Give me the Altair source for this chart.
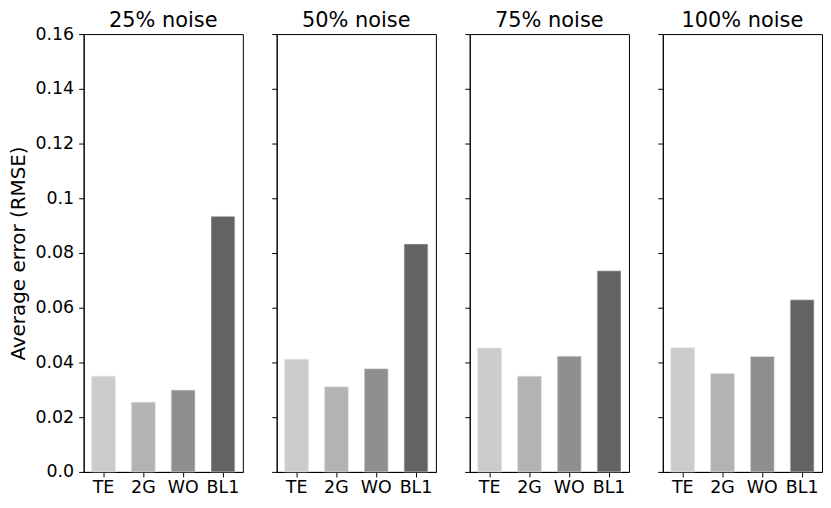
import altair as alt
import pandas as pd

panels = ["25% noise", "50% noise", "75% noise", "100% noise"]
methods = ["TE", "2G", "WO", "BL1"]
vals_25 = [0.0350, 0.0255, 0.0299, 0.0934]
vals_50 = [0.0412, 0.0311, 0.0377, 0.0833]
vals_75 = [0.0453, 0.0350, 0.0423, 0.0735]
vals_100 = [0.0454, 0.0360, 0.0422, 0.0629]
series = [vals_25, vals_50, vals_75, vals_100]
colors = ["#cccccc", "#b3b3b3", "#8f8f8f", "#636363"]
y_ticks = [0.0, 0.02, 0.04, 0.06, 0.08, 0.1, 0.12, 0.14, 0.16]

FONT = "DejaVu Sans"

charts = []
for i, (p, v) in enumerate(zip(panels, series)):
    df = pd.DataFrame({"method": methods, "value": v})
    yaxis_kw = dict(
        values=y_ticks,
        labelExpr="datum.value == 0 ? '0.0' : format(datum.value, '~g')",
        labelPadding=5,
        titlePadding=6,
    )
    if i == 0:
        yaxis_kw["title"] = "Average error (RMSE)"
        toff = -6
    else:
        yaxis_kw["title"] = ""
        yaxis_kw["labels"] = False
        toff = 3
    c = (
        alt.Chart(df, title=alt.TitleParams(p, fontSize=21, font=FONT, fontWeight="normal",
                                            offset=toff, color="black", frame="group"))
        .mark_bar(stroke="#e6e6e6", strokeWidth=0.6)
        .encode(
            x=alt.X("method:N", sort=methods,
                    scale=alt.Scale(domain=methods, paddingInner=0.4, paddingOuter=0.2),
                    axis=alt.Axis(title="", labelAngle=0, labelPadding=2)),
            y=alt.Y("value:Q", scale=alt.Scale(domain=[0, 0.16], nice=False, zero=True),
                    axis=alt.Axis(**yaxis_kw)),
            color=alt.Color("method:N", scale=alt.Scale(domain=methods, range=colors), legend=None),
        )
        .properties(width=160, height=440)
    )
    charts.append(c)

chart = (
    alt.hconcat(*charts, spacing=27)
    .properties(padding={"left": 0, "top": 0, "right": 0, "bottom": 0})
    .configure_view(stroke="black", strokeWidth=1)
    .configure_axis(
        labelFont=FONT, titleFont=FONT, labelFontSize=17.5, titleFontSize=20,
        titleFontWeight="normal", labelColor="black", titleColor="black",
        domainColor="black", tickColor="black", grid=False, tickSize=5,
        domainWidth=1, tickWidth=1,
    )
)

chart.save("out.html", embed_options={"renderer": "svg", "actions": False})
